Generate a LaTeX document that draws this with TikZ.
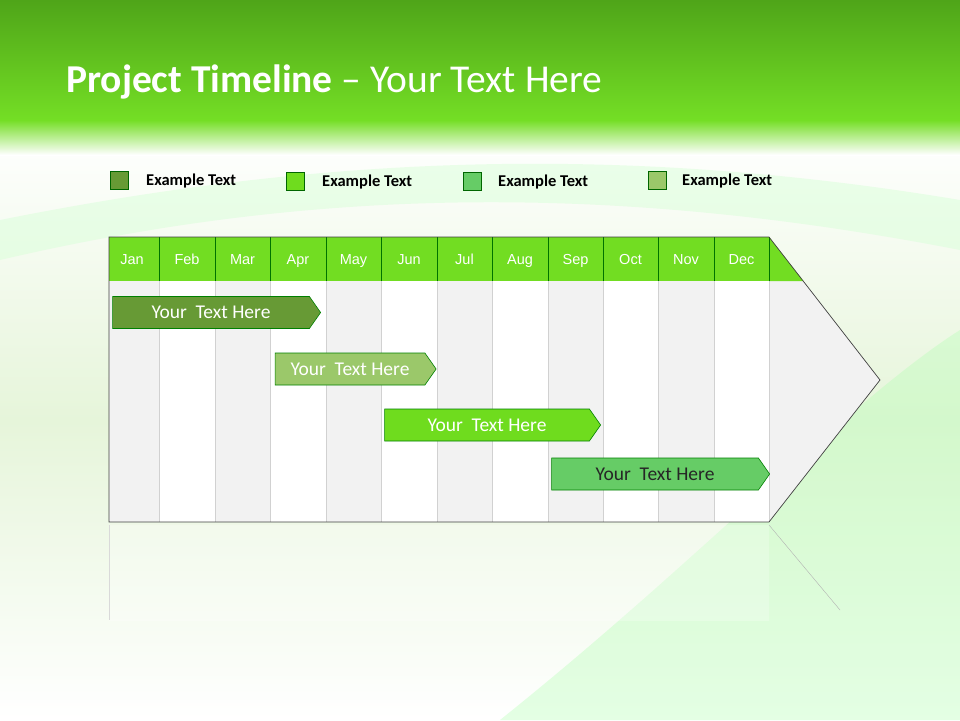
\documentclass[tikz,border=0pt]{standalone}
\usepackage{fontspec}
\setmainfont{Carlito}
\newfontfamily\arialf{Liberation Sans}
\usetikzlibrary{shapes.symbols}
\definecolor{cA}{HTML}{679A35}
\definecolor{cB}{HTML}{6FDC1E}
\definecolor{cC}{HTML}{66CC66}
\definecolor{cD}{HTML}{9BC86A}
\definecolor{hdr}{HTML}{72DD22}
\definecolor{gcol}{HTML}{F2F2F2}
\definecolor{topA}{HTML}{4FA519}
\definecolor{topB}{HTML}{74DE25}
\definecolor{bgl}{HTML}{E6F5DA}
\tikzset{
  x=1pt,y=-1pt,
  sq/.style={draw=black!60!green,line width=0.6pt,minimum size=18pt,inner sep=0pt},
  legtxt/.style={font=\bfseries\fontsize{16.5}{18}\selectfont,anchor=west,text=black,inner sep=0pt},
  mon/.style={font=\arialf\fontsize{14.5}{16}\selectfont,text=white},
  bar/.style={signal,signal to=east,signal pointer angle=110,draw=black!50!green,line width=0.6pt,inner sep=0pt,font=\fontsize{19.5}{21}\selectfont},
}
\begin{document}
\begin{tikzpicture}
\useasboundingbox (0,0) rectangle (960,720);
% background
\fill[bgl] (0,0) rectangle (960,720);
\shade[top color=white,bottom color=bgl] (0,130) rectangle (960,420);
\shade[top color=bgl,bottom color=white] (0,420) rectangle (960,720);
\fill[green!30!white,opacity=0.35] (500,720) .. controls (700,560) and (850,400) .. (960,330) -- (960,720) -- cycle;
\fill[green!15!white,opacity=0.5] (0,260) .. controls (300,190) and (600,180) .. (960,250) -- (960,200) .. controls (600,140) and (300,160) .. (0,220) -- cycle;
\shade[top color=topA,bottom color=topB] (0,0) rectangle (960,120);
\shade[top color=topB,bottom color=white] (0,120) rectangle (960,155);
\node[anchor=base west,text=white,font=\fontsize{39.5}{44}\selectfont,inner sep=0pt] (title) at (66,92) {\textbf{Project Timeline} -- Your Text Here};
% legend
\node[sq,fill=cA] (l1) at (119,180) {};
\node[legtxt] (t1) at (146,181) {Example Text};
\node[sq,fill=cB] (l2) at (295,181) {};
\node[legtxt] (t2) at (322,182) {Example Text};
\node[sq,fill=cC] (l3) at (472,181) {};
\node[legtxt] (t3) at (498,182) {Example Text};
\node[sq,fill=cD] (l4) at (657,180) {};
\node[legtxt] (t4) at (682,181) {Example Text};
% reflection
\shade[top color=white,bottom color=white,opacity=0.25] (109,525) rectangle (769,620);
\draw[black!15] (109,525) -- (109,620);
\draw[black!30] (769,525) -- (840,610);
% body arrow
\fill[gcol] (769,237) -- (880,380) -- (769,522) -- cycle;
\foreach \a/\b/\c in {109/159/gcol,159/215/white,215/270/gcol,270/326/white,326/381/gcol,381/437/white,437/492/gcol,492/548/white,548/603/gcol,603/658/white,658/714/gcol,714/769/white}
  \fill[\c] (\a,281) rectangle (\b,522);
\foreach \a in {159,215,270,326,381,437,492,548,603,658,714,769}
  \draw[black!18,line width=0.8pt] (\a,281) -- (\a,522);
% header
\fill[hdr] (109,237) rectangle (769,281);
\fill[hdr] (769,237) -- (803.4,281) -- (769,281) -- cycle;
\foreach \a in {159,215,270,326,381,437,492,548,603,658,714,769}
  \draw[black!55!green,line width=0.6pt] (\a,237) -- (\a,281);
\foreach \m/\x in {Jan/132,Feb/187,Mar/242.5,Apr/298,May/353.5,Jun/409,Jul/464.5,Aug/520,Sep/575.5,Oct/630.5,Nov/686,Dec/741.5}
  \node[mon,anchor=base] (m\m) at (\x,264) {\m};
\draw[black!75,line width=0.7pt] (109,522) -- (109,237) -- (769,237) -- (880,380) -- (769,522) -- cycle;
% bars
\node[bar,fill=cA,text=white,minimum width=208pt,minimum height=32pt] (b1) at (211,312.5) {Your\ \ Text Here};
\node[bar,fill=cD,text=white,minimum width=161pt,minimum height=32pt] (b2) at (350,369) {Your\ \ Text Here};
\node[bar,fill=cB,text=white,minimum width=216pt,minimum height=32pt] (b3) at (487,425) {Your\ \ Text Here};
\node[bar,fill=cC,text=black!85,minimum width=218pt,minimum height=32pt] (b4) at (655,474) {Your\ \ Text Here};
\end{tikzpicture}
\end{document}
